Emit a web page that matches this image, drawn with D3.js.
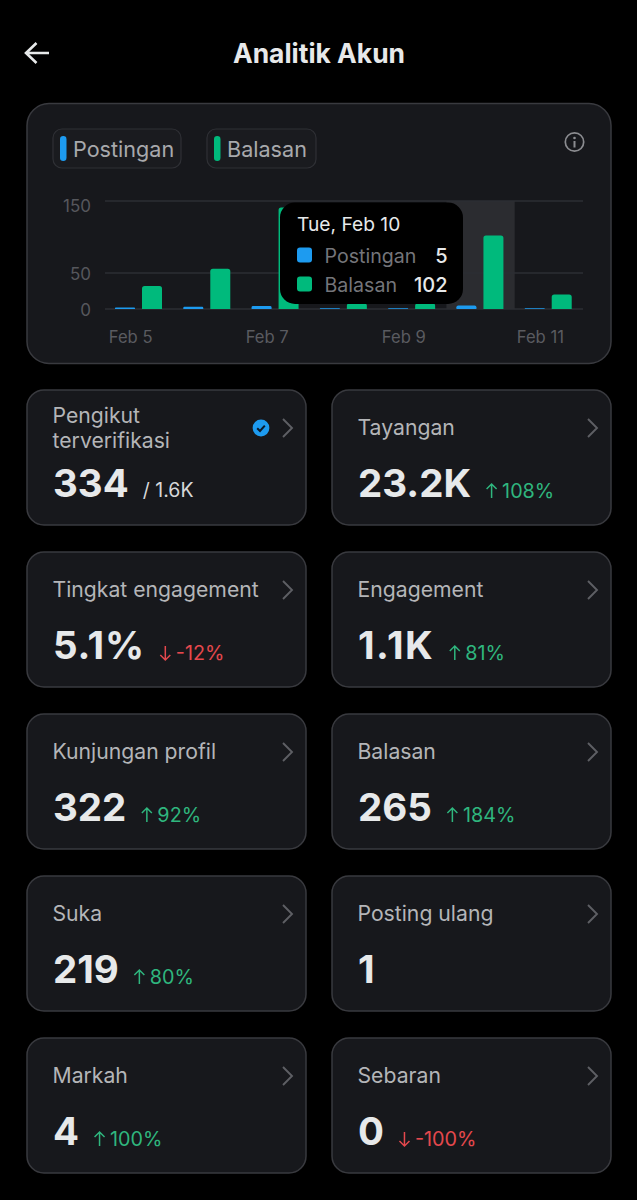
<!DOCTYPE html>
<html>
<head>
<meta charset="utf-8">
<script src="https://cdn.jsdelivr.net/npm/d3@7"></script>
<style>
html, body { margin: 0; padding: 0; background: #000; }
svg { display: block; }
text { font-family: Inter, "Noto Sans", sans-serif; }
</style>
</head>
<body>
<svg id="graph"></svg>
<script>
// chart data
var days = ["Feb 5", "Feb 6", "Feb 7", "Feb 8", "Feb 9", "Feb 10", "Feb 11"]
var postingan = [2, 3, 4, 1, 1, 5, 1]
var balasan = [32, 56, 141, 8, 8, 102, 20]
var yTicks = [0, 50, 150]
var xTicks = ["Feb 5", "Feb 7", "Feb 9", "Feb 11"]
var seriesNames = ["Postingan", "Balasan"]

// metric cards
var labels = [["Pengikut", "terverifikasi"], ["Tayangan"], ["Tingkat engagement"], ["Engagement"], ["Kunjungan profil"], ["Balasan"], ["Suka"], ["Posting ulang"], ["Markah"], ["Sebaran"]]
var values = ["334", "23.2K", "5.1%", "1.1K", "322", "265", "219", "1", "4", "0"]
var changes = [null, 108, -12, 81, 92, 184, 80, null, 100, -100]

var width = 637
var height = 1200
var BLUE = "#1d9bf0"
var GREEN = "#00ba7c"
var CARD = "#17181c"
var BORDER = "#393a3f"

var svg = d3.select("#graph").attr("width", width).attr("height", height)
svg.append("rect").attr("width", width).attr("height", height).attr("fill", "#000")

// header
svg.append("path")
  .attr("d", "M49 53H26M36.5 43L26 53L36.5 63")
  .attr("fill", "none").attr("stroke", "#e7e9ea").attr("stroke-width", 2.6)
svg.append("text").attr("x", 319).attr("y", 62.5).attr("text-anchor", "middle")
  .attr("font-size", 26.4).attr("font-weight", 700).attr("fill", "#e7e9ea").text("Analitik Akun")

// chart card
svg.append("rect").attr("x", 27).attr("y", 103.5).attr("width", 584).attr("height", 260).attr("rx", 22)
  .attr("fill", CARD).attr("stroke", BORDER).attr("stroke-width", 1.5)

// legend chips
var chipX = [53, 207]
var chipW = [128, 109]
var chips = svg.selectAll("g.chip").data(seriesNames).enter().append("g").attr("class", "chip")
  .attr("transform", function(d, i) { return "translate(" + chipX[i] + ",129)" })
chips.append("rect").attr("width", function(d, i) { return chipW[i] }).attr("height", 39).attr("rx", 9)
  .attr("fill", "#1a1b1f").attr("stroke", "#2f3035").attr("stroke-width", 1.2)
chips.append("rect").attr("x", 7).attr("y", 7).attr("width", 6.5).attr("height", 25).attr("rx", 3.2)
  .attr("fill", function(d, i) { return i == 0 ? BLUE : GREEN })
chips.append("text").attr("x", 20).attr("y", 27.5).attr("font-size", 21.6).attr("fill", "#a8a9ac").text(function(d) { return d })

// info icon
var info = svg.append("g").attr("transform", "translate(574.5,142)")
info.append("circle").attr("r", 9.2).attr("fill", "none").attr("stroke", "#8b8c90").attr("stroke-width", 1.7)
info.append("circle").attr("cy", -4).attr("r", 1.3).attr("fill", "#8b8c90")
info.append("rect").attr("x", -1).attr("y", -1).attr("width", 2).attr("height", 6.5).attr("fill", "#8b8c90")

// scales
var xScale = d3.scaleBand().domain(days).range([105, 583])
var yScale = d3.scaleLinear().domain([0, 150]).range([309, 201])
var inner = d3.scaleBand().domain(seriesNames).range([10, 57]).paddingInner(7 / 27)

// highlight for the hovered day
svg.append("rect").attr("x", xScale("Feb 10")).attr("y", yScale(150)).attr("width", xScale.bandwidth())
  .attr("height", yScale(0) - yScale(150)).attr("fill", "#2b2c30")

// grid lines
svg.selectAll("line.grid").data(yTicks).enter().append("line").attr("class", "grid")
  .attr("x1", 105).attr("x2", 583)
  .attr("y1", function(d) { return yScale(d) }).attr("y2", function(d) { return yScale(d) })
  .attr("stroke", "#2d2e33").attr("stroke-width", 1.3)

// axes
var yAxis = svg.append("g").attr("transform", "translate(91,1)")
  .call(d3.axisLeft(yScale).tickValues(yTicks).tickSize(0).tickPadding(0))
yAxis.select(".domain").remove()
yAxis.selectAll("text").attr("font-size", 17).attr("fill", "#56575c").style("font-family", "Inter")
  .attr("dy", function(d) { return d == 150 ? "0.55em" : "0.32em" })

var xAxis = svg.append("g").attr("transform", "translate(-8.5,331)")
  .call(d3.axisBottom(xScale).tickValues(xTicks).tickSize(0).tickPadding(0))
xAxis.select(".domain").remove()
xAxis.selectAll("text").attr("font-size", 16.6).attr("fill", "#5a5b60").style("font-family", "Inter")

// bars
function drawBars(values, name, color) {
  svg.selectAll("path.bar-" + name).data(values).enter().append("path").attr("class", "bar-" + name)
    .attr("fill", color)
    .attr("d", function(d, i) {
      var x0 = xScale(days[i]) + inner(name)
      var w = inner.bandwidth()
      var y0 = yScale(d)
      var h = yScale(0) - y0
      var r = Math.min(2.5, h / 2)
      return "M" + x0 + "," + (y0 + h) + "V" + (y0 + r) + "Q" + x0 + "," + y0 + " " + (x0 + r) + "," + y0 +
        "H" + (x0 + w - r) + "Q" + (x0 + w) + "," + y0 + " " + (x0 + w) + "," + (y0 + r) + "V" + (y0 + h) + "Z"
    })
}
drawBars(postingan, "Postingan", BLUE)
drawBars(balasan, "Balasan", GREEN)

// tooltip
var tip = svg.append("g").attr("transform", "translate(280,202.5)")
tip.append("rect").attr("width", 183).attr("height", 101.5).attr("rx", 15).attr("fill", "#000")
tip.append("text").attr("x", 17).attr("y", 28).attr("font-size", 19.2).attr("fill", "#e7e9ea").text("Tue, Feb 10")
var active = days.indexOf("Feb 10")
var tipRows = tip.selectAll("g.row").data(seriesNames).enter().append("g").attr("class", "row")
  .attr("transform", function(d, i) { return "translate(0," + (45 + i * 29) + ")" })
tipRows.append("rect").attr("x", 17).attr("width", 15).attr("height", 15).attr("rx", 3)
  .attr("fill", function(d, i) { return i == 0 ? BLUE : GREEN })
tipRows.append("text").attr("x", 44.5).attr("y", 15).attr("font-size", 19.6).attr("fill", "#74757a").text(function(d) { return d })
tipRows.append("text").attr("x", 167.5).attr("y", 15).attr("text-anchor", "end").attr("font-size", 20).attr("font-weight", 500)
  .attr("fill", "#e7e9ea").text(function(d, i) { return i == 0 ? postingan[active] : balasan[active] })

// metric cards
var cards = svg.selectAll("g.card").data(values).enter().append("g").attr("class", "card")
  .attr("transform", function(d, i) { return "translate(" + (i % 2 == 0 ? 27 : 332) + "," + (390 + 162 * Math.floor(i / 2)) + ")" })
cards.append("rect").attr("width", 279).attr("height", 135).attr("rx", 17)
  .attr("fill", CARD).attr("stroke", BORDER).attr("stroke-width", 1.5)
cards.append("path").attr("d", "M256 30L265 39L256 48").attr("transform", "translate(0,-1)")
  .attr("fill", "none").attr("stroke", "#5e5f64").attr("stroke-width", 1.9)

cards.each(function(d, i) {
  var card = d3.select(this)
  var lines = labels[i]
  lines.forEach(function(line, n) {
    card.append("text").attr("x", 25.5).attr("y", lines.length == 2 ? 33 + n * 25 : 45)
      .attr("font-size", 21.2).attr("fill", "#b4b5b8").text(line)
  })
  // the original font has a wider "1", so open up the decimals a little
  var ones = d.indexOf(".") >= 0 ? d.split("1").length - 1 : 0
  var value = card.append("text").attr("x", 26).attr("y", 107)
    .attr("font-size", 38.5).attr("font-weight", 700).attr("fill", "#e7e9ea")
    .attr("letter-spacing", ones * 0.75).text(d)
  var end = 26 + value.node().getComputedTextLength()
  if (i == 0) {
    card.append("text").attr("x", end + 14).attr("y", 107).attr("font-size", 19.5).attr("fill", "#d6d7d9").text("/ 1.6K")
  }
  if (changes[i] != null) {
    var up = changes[i] > 0
    var color = up ? "#2fb67e" : "#e5484d"
    var ax = end + 20.5
    // arrow drawn by hand, the font's glyph sits too wide
    card.append("path")
      .attr("d", up ? "M" + ax + " 108V94M" + (ax - 5) + " 99L" + ax + " 94L" + (ax + 5) + " 99"
                    : "M" + ax + " 94V108M" + (ax - 5) + " 103L" + ax + " 108L" + (ax + 5) + " 103")
      .attr("fill", "none").attr("stroke", color).attr("stroke-width", 1.5)
    card.append("text").attr("x", end + 31).attr("y", 108).attr("font-size", 19.8)
      .attr("fill", color).text(changes[i] + "%")
  }
})

// verified badge on the first card
var badge = svg.append("g").attr("transform", "translate(261,428)")
badge.append("circle").attr("r", 8.4).attr("fill", BLUE)
badge.append("path").attr("d", "M-3.8 0.2L-1 3L3.8 -2.4").attr("fill", "none").attr("stroke", "#0b1a2a").attr("stroke-width", 2)
</script>
</body>
</html>
